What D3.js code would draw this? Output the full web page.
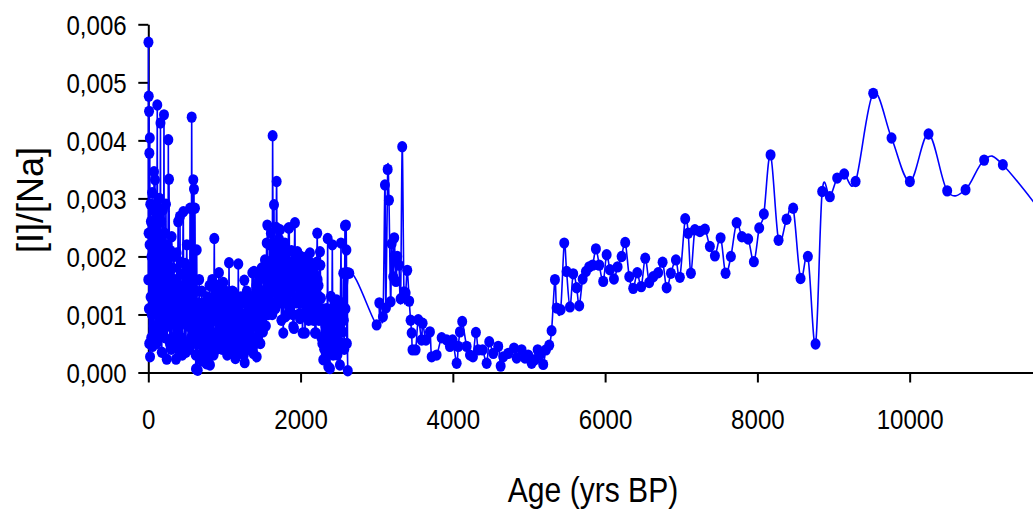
<!DOCTYPE html>
<html>
<head>
<meta charset="utf-8">
<script src="https://cdn.jsdelivr.net/npm/d3@7"></script>
<style>
  html, body { margin: 0; padding: 0; background: #fff; }
  svg { display: block; font-family: "Liberation Sans", Arial, sans-serif; }
</style>
</head>
<body>
<div id="chart"></div>
<script>
// [age (yrs BP), I/Na ratio]

// 0 - 2640 yrs: the dense part
const lateHolocene = [
  [0,0.0016],[2,0.00569],[4,0.0024],[6,0.00476],[8,0.0011],[10,0.0045],[12,0.0005],[14,0.00378],[17,0.0022],[20,0.00404],
  [23,0.00027],[26,0.0029],[30,0.0013],[34,0.0026],[38,0.0006],[42,0.002],[46,0.001],[50,0.0031],[54,0.00045],[58,0.0024],
  [62,0.0015],[66,0.0028],[70,0.0008],[75,0.00346],[80,0.0012],[84,0.0022],[88,0.00332],[92,0.0007],[96,0.0025],[100,0.0014],
  [104,0.0029],[108,0.0005],[112,0.0019],[118,0.00461],[122,0.0011],[126,0.0027],[130,0.0006],[135,0.0021],[140,0.0013],[145,0.003],
  [150,0.0009],[155,0.0023],[160,0.0043],[164,0.0008],[168,0.0026],[172,0.0015],[177,0.00035],[182,0.002],[187,0.0012],[192,0.0028],
  [197,0.0007],[202,0.0018],[206,0.00444],[210,0.001],[215,0.0024],[220,0.0006],[226,0.0017],[232,0.0029],[238,0.0009],[242,0.00023],
  [247,0.0015],[252,0.0022],[258,0.0011],[263,0.00401],[268,0.0008],[272,0.00333],[278,0.0016],[284,0.0005],[290,0.0021],[296,0.0013],
  [302,0.0004],[307,0.00234],[313,0.001],[319,0.0018],[325,0.0006],[331,0.0014],[337,0.002],[343,0.0009],[350,0.0016],[357,0.0005],
  [364,0.00023],[370,0.0012],[373,0.00206],[380,0.0008],[386,0.0015],[392,0.0026],[398,0.0007],[404,0.0013],[410,0.0004],[416,0.00269],
  [422,0.0011],[428,0.0019],[434,0.0006],[440,0.0014],[446,0.0003],[452,0.0017],[460,0.00277],[466,0.0009],[472,0.0015],[478,0.0005],
  [482,0.00188],[488,0.001],[494,0.00035],[500,0.0016],[506,0.0022],[512,0.0008],[518,0.0013],[524,0.0005],[530,0.0018],[536,0.001],
  [542,0.0004],[548,0.00283],[554,0.0012],[560,0.0006],[566,0.0017],[570,0.0044],[576,0.0009],[582,0.0015],[588,0.0005],[591,0.00332],
  [596,0.0011],[600,0.00316],[606,0.0007],[613,0.00283],[618,0.001],[622,0.0003],[626,0.00006],[632,0.0014],[636,0.00211],[642,0.0006],
  [649,0.00004],[655,0.0012],[662,0.0005],[668,0.0016],[675,0.0008],[682,0.0003],[688,0.0011],[695,0.0006],[702,0.0014],[708,0.0002],
  [715,0.0009],[722,0.0004],[730,0.0012],[737,0.0007],[744,0.00025],[750,0.001],[757,0.0005],[764,0.00015],[770,0.0008],[776,0.0013],
  [782,0.0004],[788,0.00105],[792,0.00016],[798,0.0006],[804,0.0015],[810,0.00013],[816,0.0007],[822,0.0012],[828,0.00035],[834,0.0009],
  [840,0.0016],[846,0.0005],[852,0.0011],[858,0.0003],[862,0.0013],[867,0.00231],[872,0.0009],[878,0.0014],[884,0.0006],[890,0.0012],
  [896,0.0004],[902,0.001],[908,0.0015],[914,0.0007],[920,0.0011],[928,0.00172],[934,0.0005],[940,0.001],[946,0.0014],[952,0.0006],
  [958,0.0009],[964,0.0013],[970,0.0004],[978,0.0011],[985,0.00155],[990,0.0007],[996,0.0012],[1002,0.00045],[1008,0.001],[1015,0.0014],
  [1022,0.0006],[1030,0.0012],[1036,0.0003],[1042,0.0008],[1048,0.0013],[1054,0.0005],[1060,0.00189],[1066,0.0009],[1072,0.0013],[1078,0.0006],
  [1085,0.0011],[1092,0.0004],[1098,0.0009],[1104,0.0014],[1110,0.0007],[1116,0.00139],[1122,0.0005],[1128,0.0009],[1134,0.0003],[1139,0.00119],
  [1144,0.00024],[1150,0.0008],[1156,0.0013],[1162,0.0006],[1168,0.001],[1175,0.0004],[1182,0.00187],[1188,0.0007],[1194,0.0012],[1200,0.0005],
  [1207,0.001],[1214,0.0013],[1220,0.0004],[1227,0.0008],[1234,0.0012],[1240,0.0006],[1247,0.001],[1254,0.0003],[1261,0.00159],[1266,0.00017],
  [1270,0.0007],[1276,0.0012],[1282,0.0005],[1288,0.001],[1294,0.0014],[1300,0.0006],[1307,0.0009],[1314,0.0013],[1320,0.0004],[1327,0.001],
  [1334,0.0007],[1340,0.0012],[1347,0.0005],[1354,0.0009],[1360,0.0013],[1366,0.00172],[1372,0.0006],[1379,0.00033],[1384,0.0011],[1388,0.00174],
  [1394,0.0008],[1400,0.0013],[1407,0.0005],[1414,0.001],[1420,0.0015],[1424,0.00027],[1430,0.0009],[1436,0.0014],[1442,0.0006],[1448,0.0011],
  [1455,0.0016],[1460,0.0008],[1466,0.0013],[1472,0.0005],[1478,0.0012],[1484,0.0017],[1489,0.0018],[1494,0.0009],[1500,0.0014],[1506,0.0007],
  [1512,0.0012],[1518,0.0018],[1525,0.001],[1532,0.00194],[1538,0.0013],[1544,0.0008],[1550,0.0016],[1555,0.00223],[1560,0.0012],[1563,0.00254],
  [1568,0.0015],[1574,0.001],[1580,0.0019],[1586,0.0013],[1592,0.0022],[1598,0.0011],[1604,0.0017],[1610,0.0024],[1616,0.0012],[1622,0.0018],
  [1628,0.001],[1633,0.00408],[1640,0.0015],[1645,0.0022],[1651,0.00289],[1656,0.0014],[1662,0.002],[1668,0.0011],[1674,0.0017],[1680,0.0025],
  [1686,0.00329],[1692,0.0016],[1698,0.0021],[1704,0.0013],[1710,0.0019],[1716,0.0023],[1722,0.0015],[1730,0.00246],[1736,0.0012],[1742,0.0018],
  [1748,0.0009],[1754,0.0016],[1760,0.0022],[1766,0.0014],[1773,0.00068],[1778,0.0015],[1784,0.002],[1790,0.0012],[1795,0.00223],[1800,0.00096],
  [1806,0.0017],[1812,0.0021],[1818,0.0013],[1824,0.0018],[1830,0.001],[1836,0.0016],[1841,0.00249],[1846,0.0014],[1851,0.00249],[1856,0.0017],
  [1862,0.0011],[1868,0.0019],[1874,0.0014],[1880,0.0021],[1886,0.0012],[1892,0.0018],[1898,0.001],[1904,0.00079],[1908,0.0016],[1913,0.00076],
  [1918,0.0019],[1926,0.00258],[1932,0.0015],[1938,0.002],[1944,0.0012],[1950,0.0017],[1957,0.00208],[1962,0.0013],[1968,0.0018],[1974,0.001],
  [1980,0.0016],[1986,0.0019],[1992,0.00093],[1998,0.0015],[2004,0.002],[2010,0.0012],[2016,0.0017],[2022,0.001],[2027,0.00068],[2032,0.0015],
  [2038,0.0019],[2044,0.0012],[2050,0.0016],[2058,0.00068],[2064,0.0014],[2070,0.0018],[2076,0.0011],[2082,0.0015],[2088,0.002],[2094,0.0013],
  [2100,0.0017],[2106,0.0009],[2112,0.0015],[2118,0.0019],[2123,0.00206],[2128,0.0012],[2134,0.0016],[2140,0.001],[2146,0.0014],[2152,0.0018],
  [2158,0.0011],[2164,0.0015],[2170,0.0009],[2176,0.0013],[2182,0.0017],[2189,0.00068],[2195,0.0012],[2202,0.00068],[2208,0.0015],[2214,0.0019],
  [2219,0.0024],[2224,0.0016],[2230,0.0011],[2236,0.0015],[2242,0.0009],[2248,0.0013],[2255,0.00208],[2260,0.00185],[2264,0.001],[2268,0.00128],
  [2274,0.0006],[2280,0.0011],[2286,0.0005],[2292,0.0009],[2298,0.00022],[2304,0.00091],[2310,0.0004],[2316,0.001],[2320,0.0005],[2326,0.0008],
  [2332,0.0003],[2338,0.0011],[2344,0.0006],[2350,0.0009],[2356,0.00231],[2360,0.0005],[2364,0.0001],[2370,0.0007],[2376,0.001],[2382,0.0004],
  [2386,0.00007],[2392,0.0008],[2399,0.00131],[2404,0.0006],[2408,0.0005],[2412,0.0011],[2417,0.0022],[2422,0.0009],[2428,0.0003],[2434,0.001],
  [2440,0.0006],[2446,0.0012],[2452,0.0004],[2458,0.0009],[2464,0.0005],[2470,0.0011],[2474,0.00125],[2478,0.00085],[2484,0.0003],[2490,0.0007],
  [2496,0.001],[2502,0.0004],[2508,0.0008],[2517,0.00013],[2522,0.0009],[2531,0.00223],[2536,0.001],[2542,0.0005],[2548,0.0012],[2555,0.0007],
  [2561,0.00171],[2568,0.0009],[2574,0.0004],[2583,0.00253],[2590,0.0011],[2596,0.00254],[2602,0.00211],[2608,0.0005],[2614,0.00172],[2620,0.00003],
  [2640,0.00171]
];

// 3000 - 5300 yrs
const midHolocene = [
  [2999,0.00082],[3034,0.0012],[3082,0.00096],[3108,0.00323],[3121,0.00111],[3144,0.0035],[3161,0.00297],[3183,0.00122],[3196,0.00222],[3217,0.00165],
  [3230,0.00232],[3253,0.00157],[3270,0.002],[3292,0.00185],[3314,0.00127],[3335,0.00389],[3358,0.00139],[3380,0.00137],[3401,0.00176],[3427,0.00123],
  [3445,0.0009],[3459,0.00068],[3470,0.00039],[3511,0.00039],[3546,0.00091],[3590,0.00056],[3603,0.00085],[3647,0.00056],[3699,0.0007],[3722,0.00027],
  [3787,0.0003],[3853,0.0006],[3919,0.00056],[3962,0.00045],[3997,0.00056],[4050,0.00016],[4071,0.00045],[4093,0.0007],[4123,0.00088],[4181,0.00045],
  [4225,0.0003],[4264,0.00027],[4303,0.00069],[4334,0.00039],[4391,0.00039],[4444,0.00016],[4478,0.00053],[4531,0.00033],[4596,0.00045],[4628,0.00011],
  [4662,0.00027],[4728,0.00033],[4803,0.00042],[4838,0.00025],[4903,0.00039],[4947,0.00025],[4990,0.0003],[5035,0.00016],[5078,0.00022],[5114,0.00039],
  [5144,0.0003],[5187,0.00014],[5223,0.00039],[5266,0.00047],[5297,0.00072]
];

// 5300 - 8800 yrs
const earlyHolocene = [
  [5341,0.0016],[5363,0.00111],[5416,0.00108],[5463,0.00223],[5494,0.00174],[5538,0.00113],[5581,0.0017],[5626,0.00146],[5660,0.00115],[5705,0.00161],
  [5748,0.00174],[5791,0.00182],[5836,0.00185],[5879,0.00213],[5923,0.00185],[5975,0.00157],[6020,0.00203],[6063,0.00177],[6116,0.00161],[6164,0.00182],
  [6217,0.002],[6264,0.00224],[6317,0.00165],[6369,0.00145],[6422,0.00172],[6474,0.00148],[6527,0.00197],[6579,0.00155],[6632,0.00165],[6697,0.00172],
  [6755,0.0019],[6808,0.00146],[6864,0.00171],[6930,0.00194],[6982,0.00164],[7052,0.00265],[7091,0.0024],[7127,0.00171],[7179,0.00246],[7245,0.00243],
  [7311,0.00247],[7376,0.00217],[7442,0.00201],[7517,0.00232],[7582,0.00171],[7652,0.002],[7727,0.00258],[7797,0.00234],[7879,0.0023],[7954,0.00191],
  [8024,0.00249],[8085,0.00273],[8173,0.00375],[8278,0.00228],[8383,0.00264],[8470,0.00283],[8567,0.00162],[8663,0.002],[8764,0.00049]
];

// 8800 - 12000 yrs
const deglacial = [
  [8851,0.00312],[8952,0.00303],[9048,0.00335],[9140,0.00342],[9290,0.00329],[9521,0.00481],[9762,0.00404],[10003,0.00329],[10248,0.00411],[10493,0.00313],
  [10734,0.00315],[10978,0.00366],[11224,0.00358],[12000,0.0023]
];

const xTicks = [0, 2000, 4000, 6000, 8000, 10000];
const yTicks = [0, 0.001, 0.002, 0.003, 0.004, 0.005, 0.006];

const width = 1033;
const height = 517;
const narrow = 0.86;   // the original labels use a condensed face

const series = [].concat(lateHolocene, midHolocene, earlyHolocene, deglacial);

const x = d3.scaleLinear().domain([0, 11620]).range([148.3, 1033]);
const y = d3.scaleLinear().domain([0, 0.006]).range([372.5, 24.3]);

const commaLocale = d3.formatLocale({ decimal: ",", thousands: ".", grouping: [3], currency: ["", ""] });

const svg = d3.select("#chart").append("svg")
    .attr("width", width)
    .attr("height", height);

// Axes
const xAxis = svg.append("g")
    .attr("transform", "translate(0," + y(0) + ")")
    .call(d3.axisBottom(x).tickValues(xTicks).tickSize(10).tickSizeOuter(0).tickFormat(d3.format("d")));

const yAxis = svg.append("g")
    .attr("transform", "translate(" + x(0) + ",0)")
    .call(d3.axisLeft(y).tickValues(yTicks).tickSize(10).tickSizeOuter(0).tickFormat(commaLocale.format(".3f")));

[xAxis, yAxis].forEach(a => {
    a.select(".domain").attr("stroke", "#000").attr("stroke-width", 2);
    a.selectAll(".tick line").attr("stroke", "#000").attr("stroke-width", 2);
    a.selectAll(".tick text")
        .attr("fill", "#000")
        .style("font-size", "28px")
        .attr("transform", "scale(" + narrow + ",1)");
});

xAxis.selectAll(".tick text").attr("y", 56.5).attr("dy", 0);
yAxis.selectAll(".tick text").attr("x", -21.6 / narrow).attr("dy", "0.36em");

// Axis titles
svg.append("text")
    .attr("transform", "translate(593,502) scale(" + narrow + ",1)")
    .attr("text-anchor", "middle")
    .style("font-size", "35px")
    .text("Age (yrs BP)");

svg.append("text")
    .attr("transform", "translate(42.6,200) rotate(-90)")
    .attr("text-anchor", "middle")
    .style("font-size", "36px")
    .text("[I]/[Na]");

// Smoothed line, then markers on top
const line = d3.line()
    .x(d => x(d[0]))
    .y(d => y(d[1]))
    .curve(d3.curveCardinal.tension(0));

svg.append("path")
    .datum(series)
    .attr("fill", "none")
    .attr("stroke", "#0000ff")
    .attr("stroke-width", 1.6)
    .attr("d", line);

svg.append("g")
    .selectAll("ellipse")
    .data(series)
    .enter().append("ellipse")
    .attr("cx", d => x(d[0]))
    .attr("cy", d => y(d[1]))
    .attr("rx", 5)
    .attr("ry", 5.7)
    .attr("fill", "#0000ff");
</script>
</body>
</html>
